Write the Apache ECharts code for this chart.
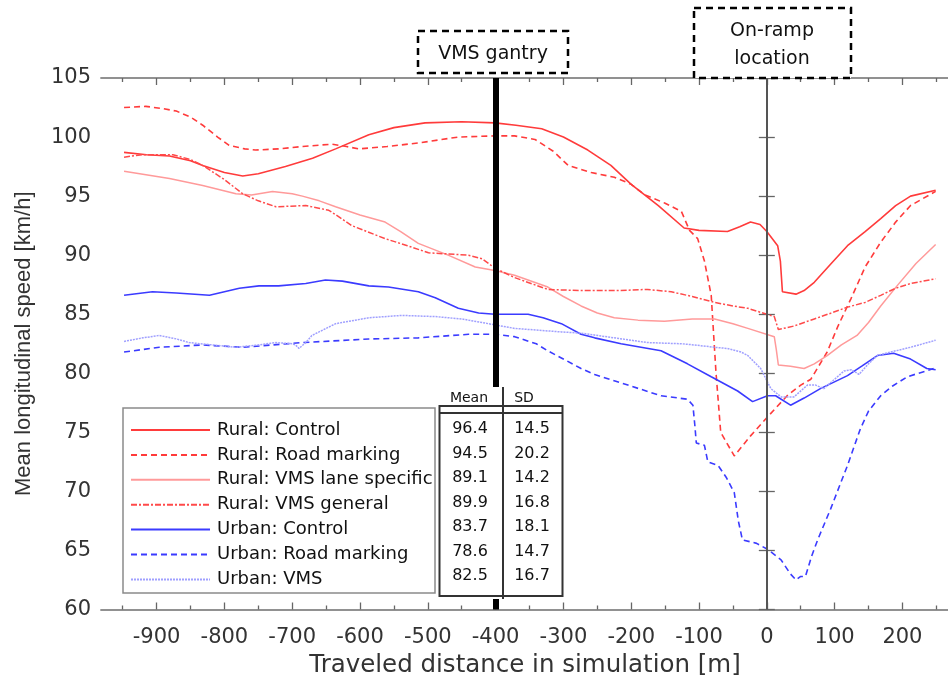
<!DOCTYPE html>
<html>
<head>
<meta charset="utf-8">
<script src="https://cdn.jsdelivr.net/npm/echarts@6/dist/echarts.min.js"></script>
<style>
html,body{margin:0;padding:0;background:#fff;}
#chart{width:948px;height:675px;}
</style>
</head>
<body>
<div id="chart"></div>
<script>
// ---------- data ----------
const seriesNames = [
  'Rural: Control', 'Rural: Road marking', 'Rural: VMS lane specific', 'Rural: VMS general',
  'Urban: Control', 'Urban: Road marking', 'Urban: VMS'
];
const meanValues = ['96.4', '94.5', '89.1', '89.9', '83.7', '78.6', '82.5'];
const sdValues = ['14.5', '20.2', '14.2', '16.8', '18.1', '14.7', '16.7'];

const xMajorTicks = [-900, -800, -700, -600, -500, -400, -300, -200, -100, 0, 100, 200];
const xMinorTicks = [-950, -850, -750, -650, -550, -450, -350, -250, -150, -50, 50, 150, 250];

const markerPositions = [-400, 0]; // VMS gantry, on-ramp

const ruralControl = [
  [-948,98.7],[-915,98.5],[-881,98.4],[-850,98.0],[-832,97.6],[-800,97.0],[-773,96.7],[-750,96.9],
  [-710,97.5],[-670,98.2],[-636,99.0],[-587,100.2],[-550,100.8],[-504,101.2],[-450,101.3],[-401,101.2],
  [-370,101.0],[-332,100.7],[-300,100.0],[-264,98.9],[-230,97.6],[-200,96.0],[-160,94.2],[-122,92.3],
  [-100,92.1],[-58,92.0],[-40,92.4],[-24,92.8],[-10,92.6],[0,92.0],[16,90.8],[20,89.5],[23,86.9],
  [43,86.7],[55,87.0],[70,87.7],[95,89.3],[119,90.8],[145,92.0],[168,93.1],[190,94.2],[212,95.0],[249,95.5]
];
const ruralRoadMarking = [
  [-948,102.5],[-916,102.6],[-890,102.4],[-871,102.2],[-850,101.7],[-832,101.0],[-810,100.0],[-793,99.3],
  [-770,99.0],[-754,98.9],[-720,99.0],[-685,99.2],[-641,99.4],[-620,99.2],[-602,99.0],[-560,99.2],
  [-514,99.5],[-455,100.0],[-401,100.1],[-372,100.1],[-342,99.8],[-315,98.8],[-293,97.6],[-259,97.0],
  [-225,96.6],[-200,96.0],[-180,95.1],[-150,94.4],[-126,93.7],[-114,92.1],[-102,91.4],[-92,89.5],
  [-82,86.6],[-75,80.1],[-68,75.0],[-48,73.0],[-24,74.7],[1,76.3],[30,78.1],[50,79.0],[65,79.5],
  [89,81.8],[105,84.0],[124,86.3],[145,89.0],[168,91.1],[190,92.8],[212,94.2],[249,95.4]
];
const ruralVmsLane = [
  [-948,97.1],[-881,96.5],[-832,95.9],[-783,95.2],[-760,95.1],[-729,95.4],[-700,95.2],[-685,95.0],
  [-660,94.6],[-636,94.1],[-600,93.4],[-563,92.8],[-540,92.0],[-514,91.0],[-470,90.0],[-430,89.0],
  [-401,88.7],[-372,88.3],[-323,87.3],[-300,86.5],[-274,85.7],[-250,85.1],[-225,84.7],[-190,84.5],
  [-151,84.4],[-110,84.6],[-77,84.6],[-50,84.2],[-28,83.8],[11,83.1],[14,82.0],[17,80.7],[35,80.6],
  [55,80.4],[70,80.8],[89,81.5],[110,82.4],[133,83.2],[150,84.3],[168,85.7],[192,87.4],[220,89.3],[249,90.9]
];
const ruralVmsGeneral = [
  [-948,98.3],[-921,98.5],[-876,98.5],[-850,98.1],[-832,97.6],[-800,96.4],[-773,95.2],[-750,94.6],
  [-724,94.1],[-680,94.2],[-646,93.8],[-630,93.2],[-612,92.5],[-563,91.4],[-530,90.8],[-499,90.2],
  [-440,90.0],[-420,89.7],[-401,88.9],[-372,88.1],[-323,87.1],[-274,87.0],[-220,87.0],[-176,87.1],
  [-141,86.9],[-110,86.5],[-77,86.0],[-50,85.7],[-28,85.5],[11,84.8],[17,83.7],[40,84.0],[70,84.6],
  [95,85.1],[119,85.6],[145,86.0],[168,86.6],[190,87.2],[212,87.6],[249,88.0]
];
const urbanControl = [
  [-948,86.6],[-906,86.9],[-871,86.8],[-822,86.6],[-800,86.9],[-778,87.2],[-749,87.4],[-720,87.4],
  [-680,87.6],[-651,87.9],[-626,87.8],[-587,87.4],[-558,87.3],[-514,86.9],[-489,86.4],[-455,85.5],
  [-425,85.1],[-401,85.0],[-352,85.0],[-330,84.7],[-303,84.2],[-274,83.3],[-254,83.0],[-215,82.5],
  [-156,81.9],[-117,80.8],[-82,79.7],[-43,78.5],[-21,77.6],[1,78.1],[13,78.1],[35,77.3],[55,77.9],
  [79,78.7],[119,79.8],[140,80.6],[163,81.5],[187,81.7],[212,81.2],[236,80.4],[249,80.3]
];
const urbanRoadMarking = [
  [-948,81.8],[-896,82.2],[-832,82.4],[-773,82.2],[-685,82.6],[-587,82.9],[-514,83.0],[-440,83.3],
  [-401,83.3],[-372,83.1],[-340,82.5],[-323,81.9],[-303,81.3],[-274,80.4],[-254,79.9],[-205,79.0],
  [-156,78.1],[-117,77.8],[-109,77.3],[-106,75.5],[-104,74.1],[-92,73.9],[-87,72.5],[-72,72.2],
  [-60,71.2],[-48,69.9],[-42,67.5],[-36,65.9],[-15,65.6],[1,65.1],[21,64.2],[35,63.0],[43,62.5],
  [50,62.8],[57,62.8],[66,64.5],[75,65.9],[94,68.5],[119,72.2],[138,75.3],[150,76.8],[168,78.1],
  [185,78.9],[207,79.7],[246,80.4]
];
const urbanVms = [
  [-948,82.7],[-920,83.0],[-896,83.2],[-870,82.9],[-852,82.6],[-818,82.4],[-783,82.2],[-750,82.4],
  [-724,82.6],[-700,82.5],[-695,82.4],[-690,82.1],[-680,82.6],[-671,83.2],[-650,83.8],[-636,84.2],
  [-587,84.7],[-538,84.9],[-489,84.8],[-450,84.6],[-401,84.1],[-372,83.8],[-303,83.5],[-274,83.4],
  [-176,82.6],[-126,82.5],[-107,82.4],[-77,82.2],[-58,82.1],[-38,81.8],[-28,81.5],[-9,80.4],[6,78.7],
  [21,78.0],[40,78.0],[60,79.0],[72,79.0],[84,78.7],[100,79.5],[114,80.2],[125,80.3],[136,79.9],
  [150,80.8],[163,81.5],[190,81.9],[212,82.2],[249,82.8]
];

const seriesData = [ruralControl, ruralRoadMarking, ruralVmsLane, ruralVmsGeneral,
                    urbanControl, urbanRoadMarking, urbanVms];

// ---------- styles ----------
const lineStyles = [
  {color:'#ff3b3b', width:1.6, type:'solid'},
  {color:'#ff3b3b', width:1.6, type:[6,4]},
  {color:'#ff9a9a', width:1.5, type:'solid'},
  {color:'#ff4a4a', width:1.5, type:[6,2,2,2]},
  {color:'#3b3bff', width:1.6, type:'solid'},
  {color:'#3b3bff', width:1.6, type:[6,4]},
  {color:'#a0a0ff', width:1.5, type:[2,1]}
];

const X_MIN = -982, X_MAX = 268.7;
const tickFont = {fontFamily:'DejaVu Sans', fontSize:21, color:'#333'};

function xAxisDef(pos, ticks, len, showLabel) {
  return {
    type:'value', position:pos, min:X_MIN, max:X_MAX,
    axisLine:{show:true, lineStyle:{color:'#8a8a8a', width:1.5}},
    axisTick:{show:true, inside:true, length:len, customValues:ticks, lineStyle:{color:'#666', width:1.3}},
    axisLabel:{show:showLabel, customValues:ticks, margin:18, ...tickFont},
    splitLine:{show:false}
  };
}

const series = seriesNames.map((n, i) => ({
  name:n, type:'line', data:seriesData[i], xAxisIndex:0, yAxisIndex:0,
  showSymbol:false, symbol:'none', lineStyle:lineStyles[i], itemStyle:{color:lineStyles[i].color},
  z:2, silent:true
}));

series.push({
  name:'markers', type:'line', data:[], xAxisIndex:0, yAxisIndex:0, z:3, silent:true,
  markLine:{
    silent:true, symbol:['none','none'], label:{show:false},
    data:[
      {xAxis:markerPositions[0], lineStyle:{color:'#000', width:6, type:'solid'}},
      {xAxis:markerPositions[1], lineStyle:{color:'#555', width:2, type:'solid'}}
    ]
  }
});

// ---------- graphics (legend box, stats table, annotations) ----------
const graphics = [];
graphics.push({type:'rect', z:3, shape:{x:123, y:408, width:312, height:185},
  style:{fill:'#fff', stroke:'#8a8a8a', lineWidth:1.5}});
// table
graphics.push({type:'rect', z:10, shape:{x:438, y:387, width:126, height:212}, style:{fill:'#fff', stroke:null}});
graphics.push({type:'rect', z:11, shape:{x:439.5, y:406, width:123, height:190}, style:{fill:null, stroke:'#333', lineWidth:2}});
graphics.push({type:'line', z:11, shape:{x1:439.5, y1:413, x2:562.5, y2:413}, style:{stroke:'#333', lineWidth:2}});
graphics.push({type:'line', z:11, shape:{x1:503, y1:387, x2:503, y2:599}, style:{stroke:'#333', lineWidth:2}});
graphics.push({type:'text', z:12, style:{text:'Mean', x:469, y:398, fontFamily:'DejaVu Sans', fontSize:14, fill:'#111', align:'center', verticalAlign:'middle'}});
graphics.push({type:'text', z:12, style:{text:'SD', x:524, y:398, fontFamily:'DejaVu Sans', fontSize:14, fill:'#111', align:'center', verticalAlign:'middle'}});
const rowY = [429, 453.5, 478, 502.5, 527, 551.5, 576];
for (let i = 0; i < meanValues.length; i++) {
  graphics.push({type:'text', z:12, style:{text:meanValues[i], x:470, y:rowY[i], fontFamily:'DejaVu Sans', fontSize:16, fill:'#111', align:'center', verticalAlign:'middle'}});
  graphics.push({type:'text', z:12, style:{text:sdValues[i], x:532, y:rowY[i], fontFamily:'DejaVu Sans', fontSize:16, fill:'#111', align:'center', verticalAlign:'middle'}});
}
// annotations
graphics.push({type:'rect', z:12, shape:{x:418, y:31, width:150, height:42},
  style:{fill:'#fff', stroke:'#000', lineWidth:2.5, lineDash:[7,5]}});
graphics.push({type:'text', z:13, style:{text:'VMS gantry', x:493, y:54, fontFamily:'DejaVu Sans', fontSize:19, fill:'#111', align:'center', verticalAlign:'middle'}});
graphics.push({type:'rect', z:12, shape:{x:694, y:8, width:157, height:70},
  style:{fill:'#fff', stroke:'#000', lineWidth:2.5, lineDash:[7,5]}});
graphics.push({type:'text', z:13, style:{text:'On-ramp', x:772, y:31, fontFamily:'DejaVu Sans', fontSize:19, fill:'#111', align:'center', verticalAlign:'middle'}});
graphics.push({type:'text', z:13, style:{text:'location', x:772, y:59, fontFamily:'DejaVu Sans', fontSize:19, fill:'#111', align:'center', verticalAlign:'middle'}});

const option = {
  animation:false,
  backgroundColor:'#fff',
  grid:{left:101, top:78, width:848, height:531.5, containLabel:false, outerBoundsMode:'none'},
  xAxis:[
    Object.assign(xAxisDef('bottom', xMajorTicks, 7, true), {
      name:'Traveled distance in simulation [m]', nameLocation:'middle', nameGap:36,
      nameTextStyle:{fontFamily:'DejaVu Sans', fontSize:24.5, color:'#333'}
    }),
    xAxisDef('bottom', xMinorTicks, 4, false),
    xAxisDef('top', xMajorTicks, 7, false),
    xAxisDef('top', xMinorTicks, 4, false)
  ],
  yAxis:[
    {type:'value', min:60, max:105, interval:5, position:'left',
     name:'Mean longitudinal speed [km/h]', nameLocation:'middle', nameGap:66, nameRotate:90,
     nameTextStyle:{fontFamily:'Liberation Sans', fontSize:22, color:'#333'},
     axisLine:{show:true, lineStyle:{color:'#8a8a8a', width:1.5}},
     axisTick:{show:true, inside:true, length:8, lineStyle:{color:'#666', width:1.3}},
     axisLabel:{margin:10, ...tickFont}, splitLine:{show:false}},
    {type:'value', min:60, max:105, interval:5, position:'right',
     axisLine:{show:true, lineStyle:{color:'#8a8a8a', width:1.5}},
     axisTick:{show:true, inside:true, length:8, lineStyle:{color:'#666', width:1.3}},
     axisLabel:{show:false}, splitLine:{show:false}}
  ],
  legend:{
    orient:'vertical', left:130, top:418, padding:0, itemGap:0.9,
    itemWidth:79, itemHeight:10, z:4,
    data:seriesNames,
    itemStyle:{opacity:0},
    textStyle:{fontFamily:'DejaVu Sans', fontSize:18, color:'#111', lineHeight:24, padding:[0,0,0,2]},
    selectedMode:false
  },
  series:series,
  graphic:graphics
};

const chart = echarts.init(document.getElementById('chart'), null, {renderer:'canvas'});
chart.setOption(option);
</script>
</body>
</html>
